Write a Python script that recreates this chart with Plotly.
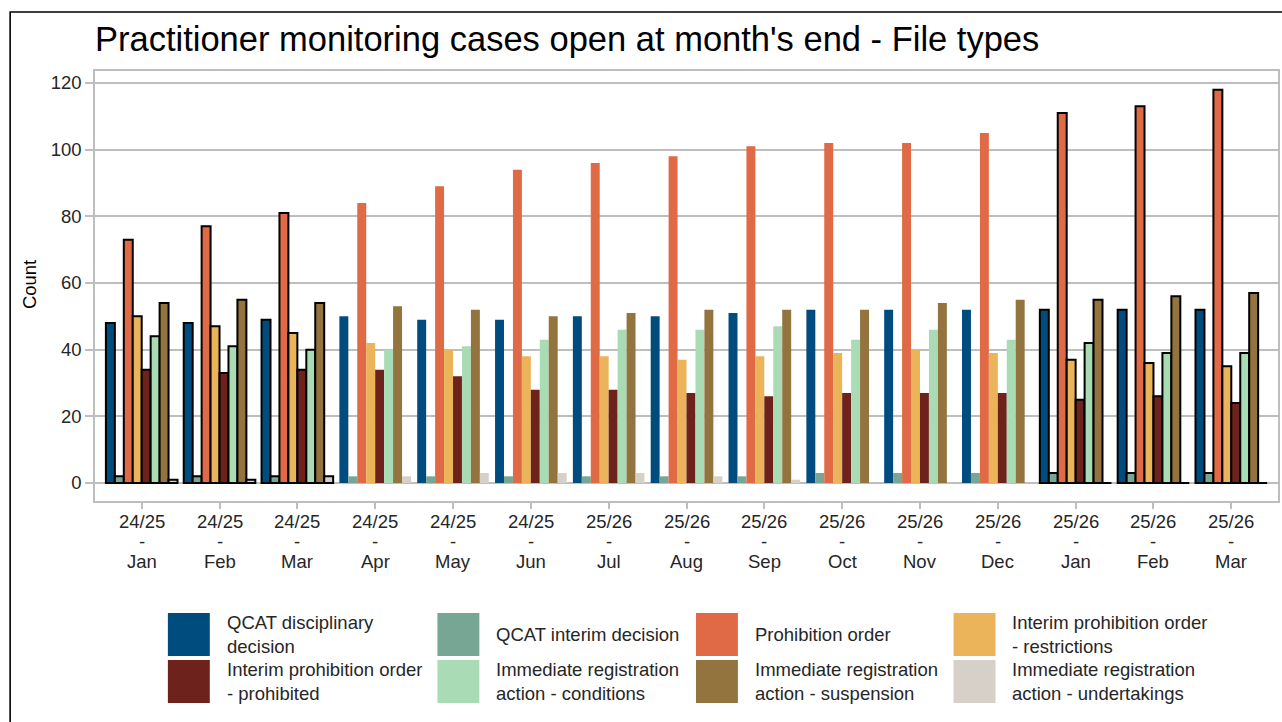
import plotly.graph_objects as go

# Reporting periods (financial year + month)
years = ["24/25"] * 6 + ["25/26"] * 9
months = ["Jan", "Feb", "Mar", "Apr", "May", "Jun", "Jul", "Aug", "Sep",
          "Oct", "Nov", "Dec", "Jan", "Feb", "Mar"]
periods = [f"{y} - {m}" for y, m in zip(years, months)]

# Periods whose bars are drawn with a black outline
outlined = ["24/25 - Jan", "24/25 - Feb", "24/25 - Mar",
            "25/26 - Jan", "25/26 - Feb", "25/26 - Mar"]

# Open cases at month's end, by file type
qcat_disciplinary = [48, 48, 49, 50, 49, 49, 50, 50, 51, 52, 52, 52, 52, 52, 52]
qcat_interim = [2, 2, 2, 2, 2, 2, 2, 2, 2, 3, 3, 3, 3, 3, 3]
prohibition_order = [73, 77, 81, 84, 89, 94, 96, 98, 101, 102, 102, 105, 111, 113, 118]
ipo_restrictions = [50, 47, 45, 42, 40, 38, 38, 37, 38, 39, 40, 39, 37, 36, 35]
ipo_prohibited = [34, 33, 34, 34, 32, 28, 28, 27, 26, 27, 27, 27, 25, 26, 24]
ira_conditions = [44, 41, 40, 40, 41, 43, 46, 46, 47, 43, 46, 43, 42, 39, 39]
ira_suspension = [54, 55, 54, 53, 52, 50, 51, 52, 52, 52, 54, 55, 55, 56, 57]
ira_undertakings = [1, 1, 2, 2, 3, 3, 3, 2, 1, 0, 0, 0, 0, 0, 0]

series = [
    ("QCAT disciplinary<br>decision", qcat_disciplinary, "#004c7e"),
    ("QCAT interim decision", qcat_interim, "#77a695"),
    ("Prohibition order", prohibition_order, "#e06a45"),
    ("Interim prohibition order<br>- restrictions", ipo_restrictions, "#ebb35a"),
    ("Interim prohibition order<br>- prohibited", ipo_prohibited, "#6d231c"),
    ("Immediate registration<br>action - conditions", ira_conditions, "#a9dcb5"),
    ("Immediate registration<br>action - suspension", ira_suspension, "#93733e"),
    ("Immediate registration<br>action - undertakings", ira_undertakings, "#d6d0c9"),
]

FONT = "Liberation Sans, Arial, sans-serif"
TEXT = "#262626"
W, H = 1282, 722
ML, MR, MT, MB = 95, 2, 71, 221
PW, PH = W - ML - MR, H - MT - MB


def px_x(p):
    return (p - ML) / PW


def px_y(p):
    return (H - MB - p) / PH


line_w = [2 if p in outlined else 0 for p in periods]

fig = go.Figure()
for name, vals, color in series:
    fig.add_trace(go.Bar(
        x=periods, y=vals, name=name,
        marker=dict(color=color, line=dict(color="black", width=line_w)),
        showlegend=False,
    ))

# Legend drawn as large colour keys with labels, 4 columns x 2 rows
key_x = [168, 438, 697, 955]
key_y = [613, 660]
key_size = 43
shapes = []
annotations = []
for i, (name, vals, color) in enumerate(series):
    row, col = divmod(i, 4)
    x0, y0 = key_x[col], key_y[row]
    shapes.append(dict(type="rect", xref="paper", yref="paper",
                       x0=px_x(x0), x1=px_x(x0 + key_size - 1),
                       y0=px_y(y0 + key_size), y1=px_y(y0),
                       fillcolor=color, line=dict(width=0), layer="above"))
    annotations.append(dict(xref="paper", yref="paper",
                            x=px_x(x0 + key_size + 14), y=px_y(y0 + key_size / 2),
                            xanchor="left", yanchor="middle", align="left",
                            text=name, showarrow=False,
                            font=dict(family=FONT, size=18.5, color=TEXT)))

# Category labels under the axis: year / dash / month, tightly stacked
for p, y, m in zip(periods, years, months):
    for txt, ypx in ((y, 521), ("-", 541), (m, 561)):
        annotations.append(dict(xref="x", yref="paper", x=p, y=px_y(ypx),
                                xanchor="center", yanchor="middle",
                                text=txt, showarrow=False,
                                font=dict(family=FONT, size=18.5, color=TEXT)))

# Outer frame around the whole figure
shapes.append(dict(type="rect", xref="paper", yref="paper",
                   x0=px_x(10), x1=px_x(W + 20), y0=px_y(H + 20), y1=px_y(12),
                   line=dict(color="black", width=1.6), fillcolor="rgba(0,0,0,0)"))

# y axis title
annotations.append(dict(xref="paper", yref="paper", x=px_x(29), y=px_y(285),
                        text="Count", textangle=-90, showarrow=False,
                        xanchor="center", yanchor="middle",
                        font=dict(family=FONT, size=18.5, color="black")))

fig.update_layout(
    width=W, height=H,
    margin=dict(l=ML, r=MR, t=MT, b=MB),
    paper_bgcolor="white", plot_bgcolor="white",
    barmode="group", bargap=0.08, bargroupgap=0,
    font=dict(family=FONT, size=18.5, color=TEXT),
    title=dict(text="Practitioner monitoring cases open at month's end - File types",
               x=ML / W, xref="container", xanchor="left",
               y=1 - 39 / H, yref="container", yanchor="middle",
               font=dict(family=FONT, size=34.5, color="black")),
    shapes=shapes, annotations=annotations,
)

grid = "#bebebe"
fig.update_xaxes(
    type="category", categoryorder="array", categoryarray=periods,
    tickmode="array", tickvals=periods, showticklabels=False,
    range=[-0.6, 14.6], showgrid=False, zeroline=False,
    showline=True, linecolor=grid, linewidth=1.6, mirror=True,
    ticks="outside", ticklen=6, tickwidth=1.6, tickcolor=grid,
)
fig.update_yaxes(
    range=[-5.4, 123.6], tickmode="array", tickvals=[0, 20, 40, 60, 80, 100, 120],
    showgrid=True, gridcolor=grid, gridwidth=1.6, zeroline=False,
    showline=True, linecolor=grid, linewidth=1.6, mirror=True,
    ticks="outside", ticklen=8, tickwidth=1.6, tickcolor=grid,
    tickfont=dict(family=FONT, size=18.5, color=TEXT),
)

fig.write_html("out.html")
